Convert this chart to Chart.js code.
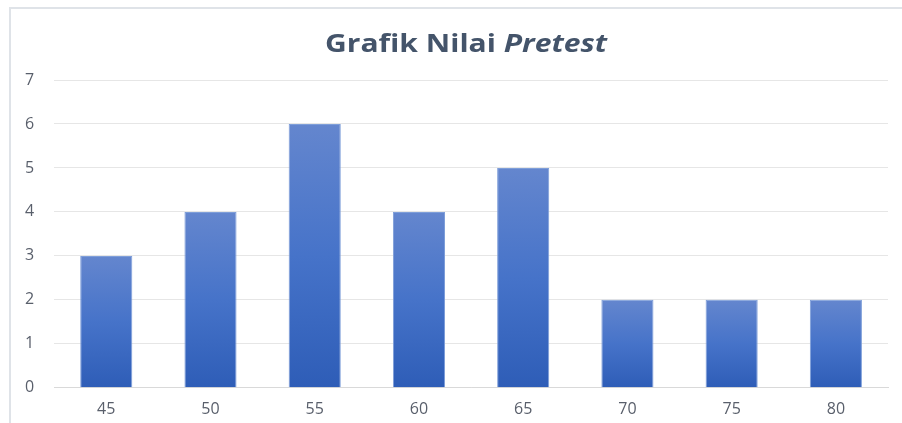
<!DOCTYPE html>
<html>
<head>
<meta charset="utf-8">
<script src="https://cdn.jsdelivr.net/npm/chart.js@4"></script>
<style>
  html, body { margin: 0; padding: 0; background: #fff; }
  #wrap { position: relative; width: 902px; height: 423px; }
</style>
</head>
<body>
<div id="wrap"><canvas id="chart" width="902" height="423"></canvas></div>
<script>
const labels = ["45", "50", "55", "60", "65", "70", "75", "80"];
const counts = [3, 4, 6, 4, 5, 2, 2, 2];
const yTicks = [0, 1, 2, 3, 4, 5, 6, 7];

const titleMain = 'Grafik Nilai ';
const titleItalic = 'Pretest';

// gradient for each bar, lighter at top, darker at bottom
function barGradient(context) {
    const chart = context.chart;
    const y = chart.scales && chart.scales.y;
    if (!chart.chartArea || !y || context.raw == null) return '#4472c4';
    const top = y.getPixelForValue(context.raw);
    const bottom = y.getPixelForValue(0);
    if (!isFinite(top) || !isFinite(bottom) || top === bottom) return '#4472c4';
    const g = chart.ctx.createLinearGradient(0, top, 0, bottom);
    g.addColorStop(0, '#6486ce');
    g.addColorStop(0.5, '#4673c9');
    g.addColorStop(1, '#2e5db7');
    return g;
}

// frame lines and the mixed style title
const decor = {
    id: 'decor',
    beforeDraw(chart) {
        const c = chart.ctx;
        c.save();
        c.strokeStyle = '#dfe3e8';
        c.lineWidth = 2;
        c.beginPath();
        c.moveTo(902, 8);
        c.lineTo(10, 8);
        c.lineTo(10, 423);
        c.stroke();
        c.restore();
    },
    afterDraw(chart) {
        const c = chart.ctx;
        c.save();
        c.fillStyle = '#44546a';
        c.textBaseline = 'alphabetic';
        const f1 = 'bold 25px "Open Sans"';
        const f2 = 'italic bold 25px "Open Sans"';
        c.font = f1;
        const w1 = c.measureText(titleMain).width;
        c.font = f2;
        const w2 = c.measureText(titleItalic).width;
        const sx = 282 / (w1 + w2);
        c.translate(466 - 141, 52);
        c.scale(sx, 1);
        c.font = f1;
        c.fillText(titleMain, 0, 0);
        c.font = f2;
        c.fillText(titleItalic, w1, 0);
        c.restore();
    }
};

const data = {
    labels: labels,
    datasets: [
        {
            label: 'Pretest',
            data: counts,
            backgroundColor: barGradient,
            borderColor: '#7e9ed9',
            borderWidth: 1,
            categoryPercentage: 1,
            barPercentage: 0.5,
        }
    ]
};

const config = {
    type: 'bar',
    data: data,
    options: {
        responsive: false,
        animation: false,
        layout: {
            padding: { left: 5, right: 14, top: 80, bottom: -8 }
        },
        plugins: {
            legend: { display: false },
            title: { display: false },
            tooltip: { enabled: false }
        },
        scales: {
            x: {
                grid: { display: false, drawTicks: false },
                border: { display: true, color: '#d9d9d9', width: 1 },
                ticks: {
                    color: '#595f6b',
                    font: { family: '"Open Sans"', size: 16 },
                    padding: 12
                }
            },
            y: {
                min: 0,
                max: 7,
                afterBuildTicks(axis) {
                    axis.ticks = yTicks.map(v => ({ value: v }));
                },
                grid: { color: '#e6e6e6', drawTicks: false, lineWidth: 1 },
                border: { display: false },
                ticks: {
                    color: '#595f6b',
                    font: { family: '"Open Sans"', size: 16 },
                    padding: 20
                }
            }
        }
    },
    plugins: [decor]
};

const myChart = new Chart(document.getElementById('chart').getContext('2d'), config);
</script>
</body>
</html>
